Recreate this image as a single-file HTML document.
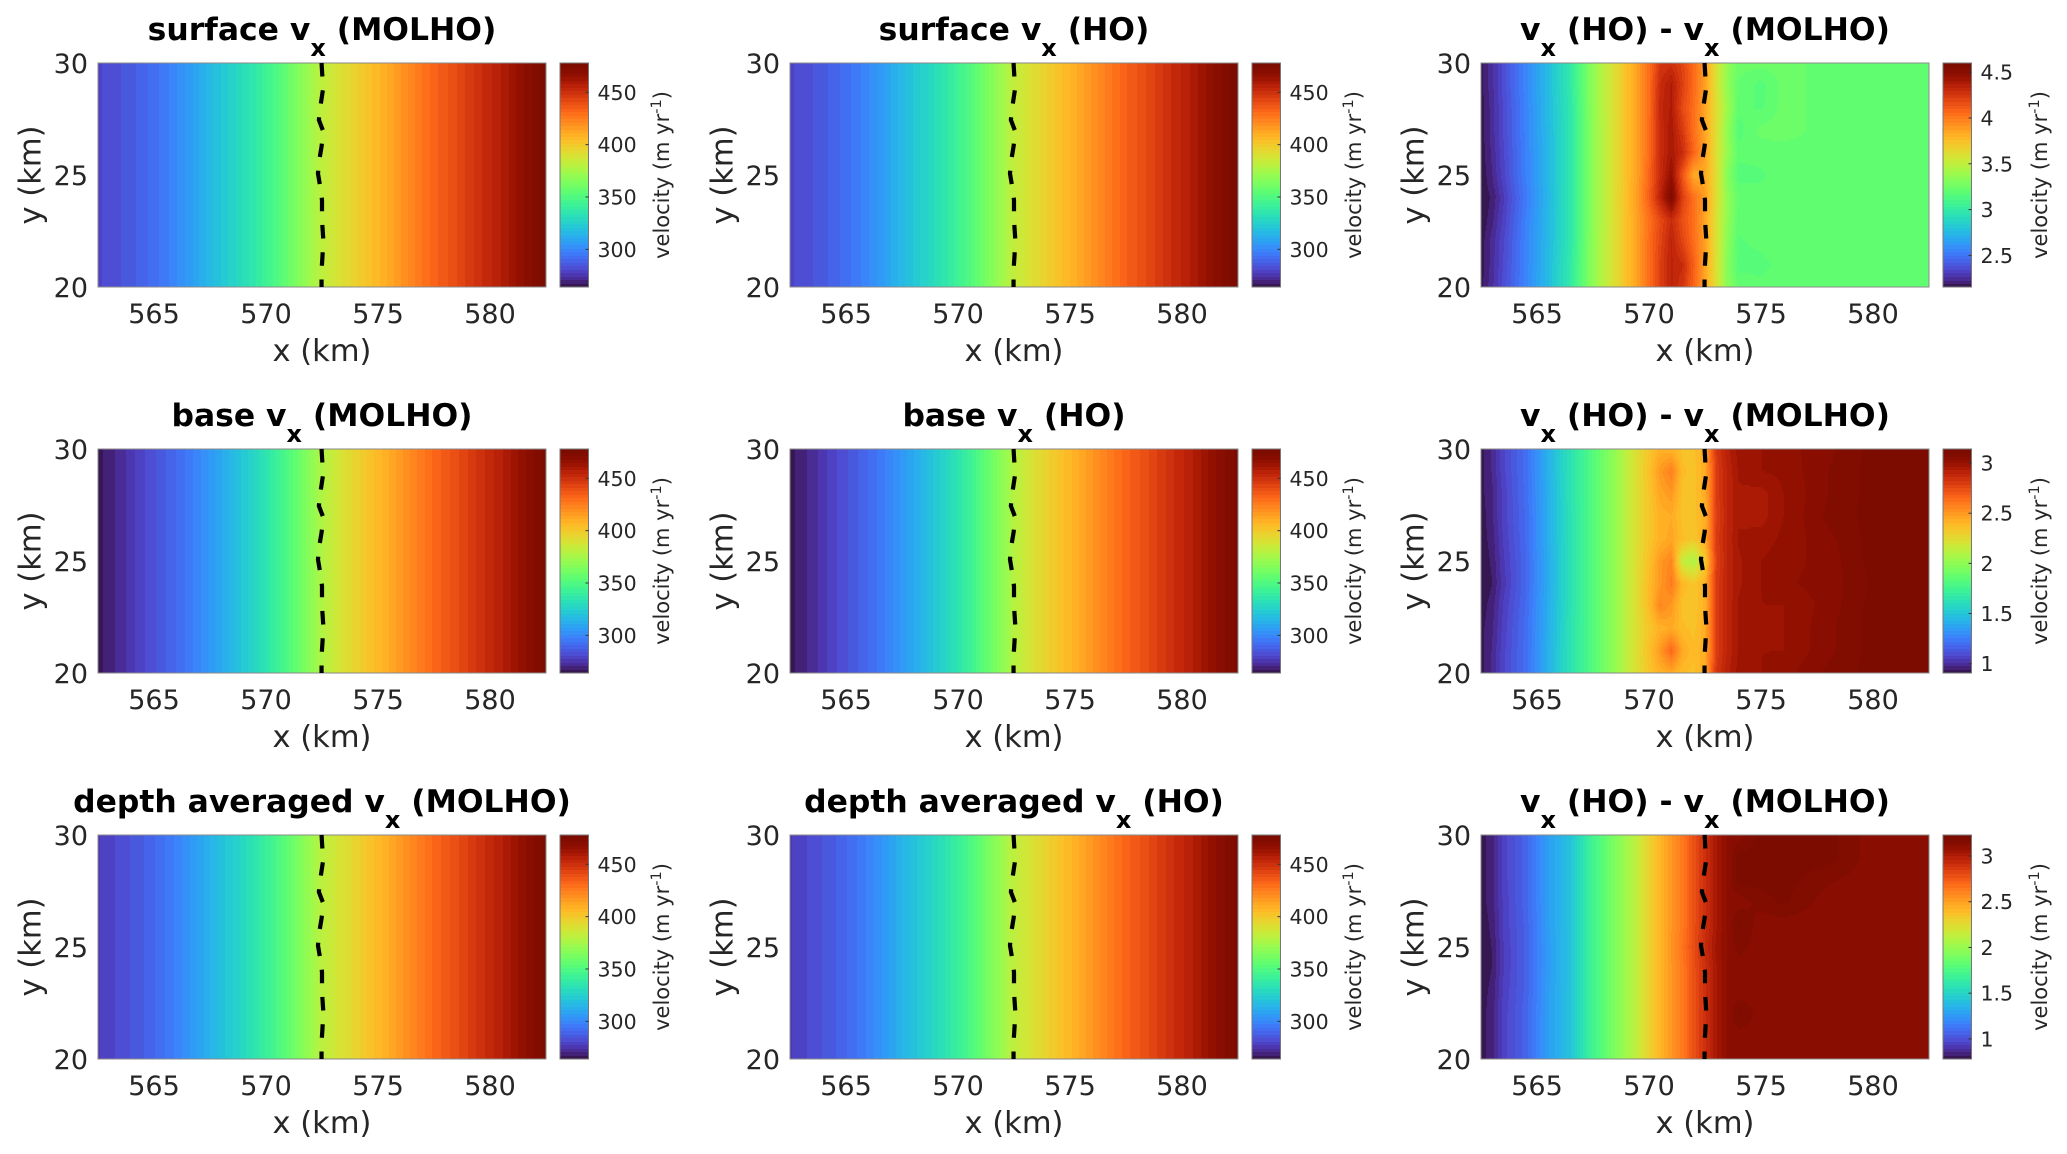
<!DOCTYPE html>
<html lang="en">
<head>
<meta charset="utf-8">
<title>Velocity comparison MOLHO and HO</title>
<style>
html,body{margin:0;padding:0;background:#fff;}
svg{display:block;font-family:"DejaVu Sans","Liberation Sans",sans-serif;fill:#111;}
.title{font-size:31.4px;font-weight:bold;text-anchor:middle;fill:#000;}
.axis-label{font-size:30.5px;text-anchor:middle;fill:#262626;}
.cbar-label{font-size:21px;text-anchor:middle;fill:#262626;}
.tick{font-size:27px;fill:#262626;}
.cbar-tick{font-size:20.5px;fill:#262626;}
</style>
</head>
<body>
<svg id="fig" width="2067" height="1154" viewBox="0 0 2067 1154" xmlns="http://www.w3.org/2000/svg">
<rect width="2067" height="1154" fill="#fff"/>

<g id="p0" transform="translate(98,63)">
<text class="title" x="224" y="-23">surface v<tspan font-size="24" dy="16">x</tspan><tspan dy="-16"> (MOLHO)</tspan></text>
<text class="axis-label" x="224" y="298">x (km)</text>
<text class="axis-label" transform="translate(-57.5,112) rotate(-90)">y (km)</text>
<text class="cbar-label" transform="translate(571,112) rotate(-90)">velocity (m yr<tspan font-size="14.5" dy="-8">-1</tspan><tspan dy="8">)</tspan></text>
</g>
<g id="p1" transform="translate(790,63)">
<text class="title" x="224" y="-23">surface v<tspan font-size="24" dy="16">x</tspan><tspan dy="-16"> (HO)</tspan></text>
<text class="axis-label" x="224" y="298">x (km)</text>
<text class="axis-label" transform="translate(-57.5,112) rotate(-90)">y (km)</text>
<text class="cbar-label" transform="translate(571,112) rotate(-90)">velocity (m yr<tspan font-size="14.5" dy="-8">-1</tspan><tspan dy="8">)</tspan></text>
</g>
<g id="p2" transform="translate(1481,63)">
<text class="title" x="224" y="-23">v<tspan font-size="24" dy="16">x</tspan><tspan dy="-16"> (HO) - v</tspan><tspan font-size="24" dy="16">x</tspan><tspan dy="-16"> (MOLHO)</tspan></text>
<text class="axis-label" x="224" y="298">x (km)</text>
<text class="axis-label" transform="translate(-57.5,112) rotate(-90)">y (km)</text>
<text class="cbar-label" transform="translate(566,112) rotate(-90)">velocity (m yr<tspan font-size="14.5" dy="-8">-1</tspan><tspan dy="8">)</tspan></text>
</g>

<g id="p3" transform="translate(98,449)">
<text class="title" x="224" y="-23">base v<tspan font-size="24" dy="16">x</tspan><tspan dy="-16"> (MOLHO)</tspan></text>
<text class="axis-label" x="224" y="298">x (km)</text>
<text class="axis-label" transform="translate(-57.5,112) rotate(-90)">y (km)</text>
<text class="cbar-label" transform="translate(571,112) rotate(-90)">velocity (m yr<tspan font-size="14.5" dy="-8">-1</tspan><tspan dy="8">)</tspan></text>
</g>
<g id="p4" transform="translate(790,449)">
<text class="title" x="224" y="-23">base v<tspan font-size="24" dy="16">x</tspan><tspan dy="-16"> (HO)</tspan></text>
<text class="axis-label" x="224" y="298">x (km)</text>
<text class="axis-label" transform="translate(-57.5,112) rotate(-90)">y (km)</text>
<text class="cbar-label" transform="translate(571,112) rotate(-90)">velocity (m yr<tspan font-size="14.5" dy="-8">-1</tspan><tspan dy="8">)</tspan></text>
</g>
<g id="p5" transform="translate(1481,449)">
<text class="title" x="224" y="-23">v<tspan font-size="24" dy="16">x</tspan><tspan dy="-16"> (HO) - v</tspan><tspan font-size="24" dy="16">x</tspan><tspan dy="-16"> (MOLHO)</tspan></text>
<text class="axis-label" x="224" y="298">x (km)</text>
<text class="axis-label" transform="translate(-57.5,112) rotate(-90)">y (km)</text>
<text class="cbar-label" transform="translate(566,112) rotate(-90)">velocity (m yr<tspan font-size="14.5" dy="-8">-1</tspan><tspan dy="8">)</tspan></text>
</g>

<g id="p6" transform="translate(98,835)">
<text class="title" x="224" y="-23">depth averaged v<tspan font-size="24" dy="16">x</tspan><tspan dy="-16"> (MOLHO)</tspan></text>
<text class="axis-label" x="224" y="298">x (km)</text>
<text class="axis-label" transform="translate(-57.5,112) rotate(-90)">y (km)</text>
<text class="cbar-label" transform="translate(571,112) rotate(-90)">velocity (m yr<tspan font-size="14.5" dy="-8">-1</tspan><tspan dy="8">)</tspan></text>
</g>
<g id="p7" transform="translate(790,835)">
<text class="title" x="224" y="-23">depth averaged v<tspan font-size="24" dy="16">x</tspan><tspan dy="-16"> (HO)</tspan></text>
<text class="axis-label" x="224" y="298">x (km)</text>
<text class="axis-label" transform="translate(-57.5,112) rotate(-90)">y (km)</text>
<text class="cbar-label" transform="translate(571,112) rotate(-90)">velocity (m yr<tspan font-size="14.5" dy="-8">-1</tspan><tspan dy="8">)</tspan></text>
</g>
<g id="p8" transform="translate(1481,835)">
<text class="title" x="224" y="-23">v<tspan font-size="24" dy="16">x</tspan><tspan dy="-16"> (HO) - v</tspan><tspan font-size="24" dy="16">x</tspan><tspan dy="-16"> (MOLHO)</tspan></text>
<text class="axis-label" x="224" y="298">x (km)</text>
<text class="axis-label" transform="translate(-57.5,112) rotate(-90)">y (km)</text>
<text class="cbar-label" transform="translate(566,112) rotate(-90)">velocity (m yr<tspan font-size="14.5" dy="-8">-1</tspan><tspan dy="8">)</tspan></text>
</g>
</svg>

<script>
// ---- shared axis data ----
var xTicks = [565, 570, 575, 580];
var yTicks = [20, 25, 30];
var xDomain = [562.5, 582.5];
var yDomain = [20, 30];

// ---- grounding line (km) ----
var groundingX = [572.48,572.52,572.54,572.44,572.36,572.56,572.48,572.38,572.32,572.42,572.5,572.5,572.52,572.56,572.52,572.48,572.48];
var groundingY = [30,29.33,28.8,28.13,27.46,26.94,26.27,25.67,25.07,24.48,23.88,23.28,22.69,22.09,21.35,20.75,20];

// ---- velocity profiles along x, panels with no y variation ----
var profileXs = [562.5,563.5,564.5,565.5,566.5,567.5,568.5,569.5,570.5,571.5,572.5,573.5,574.5,575.5,576.5,577.5,578.5,579.5,580.5,581.5,582.5];
var surfaceMolho = [280,284,289,296,305,316,326,337,350,366,382,392,402,412,423,433,441,450,458,468,477];
var surfaceHo    = [280,284,289,296,305,316,326,337,350,366,383,393,403,413,424,434,442,451,459,469,477];
var baseMolho    = [266,272,280,287,295,305,316,328,342,359,378,391,401,411,422,432,440,449,457,467,476];
var baseHo       = [266,272,280,287,295,305,316,328,342,360,379,392,402,412,423,433,441,450,458,468,476];
var depthMolho   = [277,282,287,294,303,314,324,335,348,364,381,391,401,411,422,432,440,449,457,467,476];
var depthHo      = [277,282,287,294,303,314,324,335,348,365,382,392,402,412,423,433,441,450,458,468,476];

// ---- difference grids: rows y = 30..20, columns at diffXs ----
var diffXs = [562.5,563,563.5,564.5,565.5,566.5,567.5,568.5,569.5,570,570.5,571,571.5,572,572.5,573,573.5,574,575,576,578,580,582.5];
var diffYs = [30,29,28,27,26,25,24,23,22,21,20];
var surfaceDiff = [
[2.18,2.26,2.36,2.56,2.76,3.0,3.36,3.62,3.88,4.05,4.25,4.28,4.2,4.06,3.88,3.6,3.36,3.24,3.24,3.24,3.21,3.21,3.21],
[2.18,2.26,2.36,2.56,2.76,3.0,3.36,3.62,3.88,4.05,4.3,4.38,4.22,4.06,3.88,3.6,3.36,3.22,3.17,3.24,3.21,3.21,3.21],
[2.17,2.25,2.35,2.55,2.76,2.98,3.36,3.62,3.88,4.05,4.32,4.38,4.18,4.05,3.86,3.62,3.4,3.2,3.18,3.24,3.21,3.21,3.21],
[2.17,2.25,2.35,2.55,2.75,2.98,3.35,3.62,3.88,4.06,4.3,4.4,4.24,4.04,3.86,3.62,3.36,3.17,3.24,3.24,3.21,3.21,3.21],
[2.17,2.24,2.34,2.54,2.75,2.98,3.35,3.62,3.88,4.06,4.3,4.4,4.3,4.08,3.88,3.6,3.38,3.2,3.2,3.21,3.21,3.21,3.21],
[2.16,2.23,2.33,2.54,2.75,2.98,3.35,3.62,3.88,4.08,4.3,4.46,4.14,3.84,3.84,3.62,3.32,3.17,3.18,3.21,3.21,3.21,3.21],
[2.16,2.2,2.3,2.52,2.74,2.98,3.35,3.62,3.9,4.1,4.34,4.56,4.22,4.04,3.88,3.62,3.36,3.22,3.2,3.21,3.21,3.21,3.21],
[2.16,2.22,2.32,2.54,2.75,2.98,3.35,3.62,3.88,4.04,4.18,4.3,4.16,4.04,3.86,3.6,3.36,3.2,3.2,3.21,3.21,3.21,3.21],
[2.17,2.25,2.34,2.55,2.75,2.98,3.36,3.62,3.88,4.05,4.2,4.34,4.2,4.05,3.88,3.6,3.34,3.18,3.2,3.21,3.21,3.21,3.21],
[2.17,2.25,2.35,2.55,2.76,3.0,3.36,3.62,3.88,4.05,4.22,4.34,4.3,4.1,3.86,3.6,3.32,3.17,3.17,3.21,3.21,3.21,3.21],
[2.18,2.26,2.36,2.56,2.76,3.0,3.36,3.62,3.88,4.05,4.22,4.34,4.26,4.08,3.86,3.6,3.34,3.22,3.2,3.21,3.21,3.21,3.21]
];
var baseDiff = [
[.93,.98,1.07,1.2,1.42,1.64,1.82,2.02,2.25,2.34,2.42,2.42,2.36,2.36,2.45,2.82,2.92,2.98,3.0,3.02,3.06,3.12,3.12],
[.93,.98,1.07,1.2,1.42,1.64,1.82,2.02,2.25,2.36,2.5,2.58,2.38,2.36,2.43,2.8,2.9,2.97,3.0,3.01,3.07,3.12,3.12],
[.93,.97,1.06,1.2,1.41,1.64,1.82,2.02,2.25,2.34,2.46,2.5,2.36,2.36,2.43,2.8,2.9,2.96,2.95,3.0,3.07,3.12,3.12],
[.92,.97,1.06,1.19,1.41,1.63,1.82,2.02,2.25,2.34,2.42,2.44,2.36,2.36,2.42,2.78,2.9,2.96,2.95,3.0,3.08,3.12,3.12],
[.92,.96,1.05,1.19,1.41,1.63,1.82,2.02,2.25,2.34,2.42,2.46,2.38,2.34,2.44,2.8,2.9,2.97,2.98,3.01,3.06,3.12,3.12],
[.91,.95,1.04,1.18,1.4,1.63,1.82,2.02,2.25,2.36,2.5,2.56,2.15,2.08,2.32,2.78,2.9,2.96,3.0,3.02,3.05,3.12,3.12],
[.91,.94,1.03,1.18,1.4,1.63,1.82,2.02,2.25,2.38,2.5,2.6,2.4,2.34,2.42,2.8,2.9,2.96,3.0,3.03,3.05,3.11,3.12],
[.92,.96,1.05,1.19,1.41,1.63,1.82,2.02,2.25,2.38,2.56,2.5,2.36,2.34,2.42,2.8,2.9,2.97,3.0,3.0,3.05,3.12,3.12],
[.93,.97,1.06,1.2,1.41,1.64,1.82,2.02,2.25,2.34,2.42,2.45,2.38,2.36,2.43,2.8,2.9,2.97,3.0,3.0,3.06,3.12,3.12],
[.93,.98,1.07,1.2,1.42,1.64,1.82,2.02,2.25,2.36,2.5,2.66,2.45,2.38,2.43,2.8,2.9,2.97,3.0,3.0,3.06,3.12,3.12],
[.93,.98,1.07,1.2,1.42,1.64,1.82,2.02,2.25,2.34,2.42,2.45,2.38,2.36,2.44,2.82,2.92,2.98,3.0,3.02,3.08,3.12,3.12]
];
var depthDiff = [
[.8,.84,.95,1.07,1.27,1.42,1.71,1.93,2.15,2.3,2.42,2.54,2.64,2.79,2.91,3.03,3.12,3.13,3.21,3.21,3.21,3.13,3.13],
[.8,.84,.95,1.07,1.27,1.42,1.71,1.93,2.15,2.3,2.42,2.54,2.64,2.79,2.91,3.03,3.12,3.21,3.21,3.21,3.21,3.13,3.13],
[.8,.84,.95,1.07,1.27,1.42,1.71,1.93,2.15,2.3,2.42,2.54,2.64,2.79,2.91,3.03,3.12,3.21,3.21,3.21,3.16,3.13,3.13],
[.8,.84,.94,1.07,1.27,1.42,1.71,1.93,2.15,2.3,2.42,2.54,2.64,2.79,2.91,3.03,3.12,3.13,3.17,3.2,3.13,3.13,3.13],
[.79,.83,.94,1.06,1.27,1.42,1.71,1.93,2.15,2.3,2.42,2.54,2.64,2.79,2.91,3.03,3.12,3.2,3.13,3.13,3.13,3.13,3.13],
[.79,.82,.93,1.06,1.26,1.42,1.71,1.93,2.15,2.3,2.42,2.54,2.66,2.8,2.93,3.05,3.12,3.17,3.13,3.13,3.13,3.13,3.13],
[.79,.82,.93,1.06,1.26,1.42,1.71,1.93,2.15,2.3,2.42,2.54,2.64,2.79,2.91,3.03,3.12,3.13,3.13,3.13,3.13,3.13,3.13],
[.8,.83,.94,1.06,1.27,1.42,1.71,1.93,2.15,2.3,2.42,2.54,2.64,2.79,2.91,3.03,3.12,3.13,3.13,3.13,3.13,3.13,3.13],
[.8,.84,.95,1.07,1.27,1.42,1.71,1.93,2.15,2.3,2.42,2.54,2.64,2.79,2.91,3.03,3.12,3.2,3.13,3.13,3.13,3.13,3.13],
[.8,.84,.95,1.07,1.27,1.42,1.71,1.93,2.15,2.3,2.42,2.54,2.64,2.79,2.91,3.03,3.12,3.13,3.13,3.13,3.13,3.13,3.13],
[.8,.84,.95,1.07,1.27,1.42,1.71,1.93,2.15,2.3,2.42,2.54,2.64,2.79,2.91,3.03,3.12,3.13,3.13,3.13,3.13,3.13,3.13]
];

// ---- colorbar ranges and tick labels ----
var speedRange = [264, 478];
var speedTicks = [300, 350, 400, 450];
var surfaceDiffRange = [2.155, 4.6];
var surfaceDiffTicks = [2.5, 3, 3.5, 4, 4.5];
var baseDiffRange = [0.907, 3.14];
var baseDiffTicks = [1, 1.5, 2, 2.5, 3];
var depthDiffRange = [0.78, 3.23];
var depthDiffTicks = [1, 1.5, 2, 2.5, 3];

var panels = [
  {id:'p0', xs:profileXs, ys:null,   grid:[surfaceMolho], range:speedRange,       ticks:speedTicks},
  {id:'p1', xs:profileXs, ys:null,   grid:[surfaceHo],    range:speedRange,       ticks:speedTicks},
  {id:'p2', xs:diffXs,    ys:diffYs, grid:surfaceDiff,    range:surfaceDiffRange, ticks:surfaceDiffTicks},
  {id:'p3', xs:profileXs, ys:null,   grid:[baseMolho],    range:speedRange,       ticks:speedTicks},
  {id:'p4', xs:profileXs, ys:null,   grid:[baseHo],       range:speedRange,       ticks:speedTicks},
  {id:'p5', xs:diffXs,    ys:diffYs, grid:baseDiff,       range:baseDiffRange,    ticks:baseDiffTicks},
  {id:'p6', xs:profileXs, ys:null,   grid:[depthMolho],   range:speedRange,       ticks:speedTicks},
  {id:'p7', xs:profileXs, ys:null,   grid:[depthHo],      range:speedRange,       ticks:speedTicks},
  {id:'p8', xs:diffXs,    ys:diffYs, grid:depthDiff,      range:depthDiffRange,   ticks:depthDiffTicks}
];

var PLOT_W = 448, PLOT_H = 224, CB_X = 462, CB_W = 28.5, LEVELS = 64;
var NS = 'http://www.w3.org/2000/svg';

function xScale(v){ return (v - xDomain[0]) / (xDomain[1] - xDomain[0]) * PLOT_W; }
function yScale(v){ return PLOT_H - (v - yDomain[0]) / (yDomain[1] - yDomain[0]) * PLOT_H; }

function turbo(t){
  var r = 0.13572138+t*(4.61539260+t*(-42.66032258+t*(132.13108234+t*(-152.94239396+t*59.28637943))));
  var g = 0.09140261+t*(2.19418839+t*(4.84296658+t*(-14.18503333+t*(4.27729857+t*2.82956604))));
  var b = 0.10667330+t*(12.64194608+t*(-60.58204836+t*(110.36276771+t*(-89.90310912+t*27.34824973))));
  if (t < 0.1) {
    var low = 1 - t / 0.1;
    r += 0.05 * low;
    g -= 0.02 * low;
    b += 0.125 * low;
  }
  if (t > 0.9) {
    r *= 1 - 1.5 * (t - 0.9);
  }
  function c(u){ return Math.max(0, Math.min(255, Math.round(u*255))); }
  return 'rgb(' + c(r) + ',' + c(g) + ',' + c(b) + ')';
}
function levelOf(v, range){
  var t = (v - range[0]) / (range[1] - range[0]);
  return Math.max(0, Math.min(LEVELS - 1, Math.floor(t * LEVELS)));
}
function levelColor(l){ return turbo((l + 0.5) / LEVELS); }

function bracket(arr, v){
  var n = arr.length;
  for (var i = 0; i < n - 1; i++) {
    var a = arr[i], b = arr[i + 1];
    if ((v >= a && v <= b) || (v <= a && v >= b)) return [i, (v - a) / (b - a)];
  }
  return [n - 2, 1];
}
function sample(p, x, y){
  var bx = bracket(p.xs, x), i = bx[0], fx = bx[1];
  function rowAt(r){ return p.grid[r][i] * (1 - fx) + p.grid[r][i + 1] * fx; }
  if (p.grid.length === 1) return rowAt(0);
  var by = bracket(p.ys, y);
  return rowAt(by[0]) * (1 - by[1]) + rowAt(by[0] + 1) * by[1];
}

function drawHeat(p, root){
  var g = document.createElementNS(NS, 'g');
  
  
  g.setAttribute('shape-rendering', 'crispEdges');
  var stripH = p.grid.length === 1 ? PLOT_H : 2;
  for (var sy = 0; sy < PLOT_H; sy += stripH) {
    var yVal = yDomain[1] - (sy + stripH / 2) / PLOT_H * (yDomain[1] - yDomain[0]);
    var runStart = 0, runLevel = -1;
    for (var px = 0; px <= PLOT_W; px++) {
      var lvl = -2;
      if (px < PLOT_W) {
        var xVal = xDomain[0] + (px + 0.5) / PLOT_W * (xDomain[1] - xDomain[0]);
        lvl = levelOf(sample(p, xVal, yVal), p.range);
      }
      if (lvl !== runLevel) {
        if (runLevel >= 0) {
          var r = document.createElementNS(NS, 'rect');
          r.setAttribute('x', runStart);
          r.setAttribute('y', sy);
          r.setAttribute('width', px - runStart);
          r.setAttribute('height', stripH);
          r.setAttribute('fill', levelColor(runLevel));
          
          
          g.appendChild(r);
        }
        runStart = px;
        runLevel = lvl;
      }
    }
  }
  root.appendChild(g);
}

function drawFrameAndTicks(root){
  var frame = document.createElementNS(NS, 'rect');
  frame.setAttribute('x', 0);
  frame.setAttribute('y', 0);
  frame.setAttribute('width', PLOT_W);
  frame.setAttribute('height', PLOT_H);
  frame.setAttribute('fill', 'none');
  frame.setAttribute('stroke', '#8a8a8a');
  frame.setAttribute('stroke-width', '1');
  
  
  root.appendChild(frame);

  xTicks.forEach(function(v){
    var t = document.createElementNS(NS, 'text');
    t.setAttribute('class', 'tick');
    t.setAttribute('x', xScale(v));
    t.setAttribute('y', PLOT_H + 36);
    t.setAttribute('text-anchor', 'middle');
    
    
    t.textContent = v;
    root.appendChild(t);
  });
  yTicks.forEach(function(v){
    var t = document.createElementNS(NS, 'text');
    t.setAttribute('class', 'tick');
    t.setAttribute('x', -10);
    t.setAttribute('y', yScale(v) + 10);
    t.setAttribute('text-anchor', 'end');
    
    
    t.textContent = v;
    root.appendChild(t);
  });
}

function drawGroundingLine(root){
  var pts = groundingX.map(function(x, i){ return xScale(x).toFixed(2) + ',' + yScale(groundingY[i]).toFixed(2); }).join(' ');
  var line = document.createElementNS(NS, 'polyline');
  line.setAttribute('points', pts);
  line.setAttribute('fill', 'none');
  line.setAttribute('stroke', '#000');
  line.setAttribute('stroke-width', '4.2');
  line.setAttribute('stroke-dasharray', '13.5 13.8');
  
  
  root.appendChild(line);
}

function drawColorbar(p, root){
  var g = document.createElementNS(NS, 'g');
  
  
  var vScale = function(v){ return PLOT_H - (v - p.range[0]) / (p.range[1] - p.range[0]) * PLOT_H; };
  var cells = document.createElementNS(NS, 'g');
  cells.setAttribute('shape-rendering', 'crispEdges');
  
  
  for (var l = 0; l < LEVELS; l++) {
    var v0 = p.range[0] + (p.range[1] - p.range[0]) * l / LEVELS;
    var v1 = p.range[0] + (p.range[1] - p.range[0]) * (l + 1) / LEVELS;
    var top = Math.floor(vScale(v1));
    var r = document.createElementNS(NS, 'rect');
    r.setAttribute('x', CB_X);
    r.setAttribute('y', top);
    r.setAttribute('width', CB_W);
    r.setAttribute('height', Math.ceil(vScale(v0)) - top);
    r.setAttribute('fill', levelColor(l));
    
    
    cells.appendChild(r);
  }
  g.appendChild(cells);
  var box = document.createElementNS(NS, 'rect');
  box.setAttribute('x', CB_X);
  box.setAttribute('y', 0);
  box.setAttribute('width', CB_W);
  box.setAttribute('height', PLOT_H);
  box.setAttribute('fill', 'none');
  box.setAttribute('stroke', '#777');
  box.setAttribute('stroke-width', '1');
  
  
  g.appendChild(box);
  p.ticks.forEach(function(v){
    var y = vScale(v);
    var m = document.createElementNS(NS, 'line');
    m.setAttribute('x1', CB_X + CB_W - 3);
    m.setAttribute('x2', CB_X + CB_W);
    m.setAttribute('y1', y);
    m.setAttribute('y2', y);
    m.setAttribute('stroke', '#333');
    m.setAttribute('stroke-width', '1');
    
    
    g.appendChild(m);
    var t = document.createElementNS(NS, 'text');
    t.setAttribute('class', 'cbar-tick');
    t.setAttribute('x', CB_X + CB_W + 9);
    t.setAttribute('y', y + 7.5);
    
    
    t.textContent = v;
    g.appendChild(t);
  });
  root.appendChild(g);
}

panels.forEach(function(p){
  var root = document.getElementById(p.id);
  drawHeat(p, root);
  drawFrameAndTicks(root);
  drawGroundingLine(root);
  drawColorbar(p, root);
});
</script>
</body>
</html>
